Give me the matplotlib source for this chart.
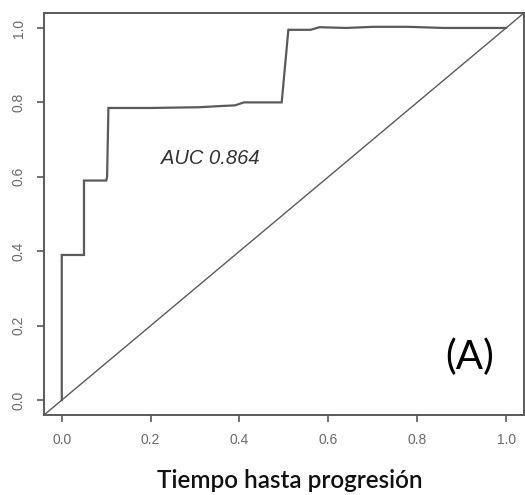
import matplotlib
matplotlib.use("Agg")
import matplotlib.pyplot as plt

# ROC curve points (false positive rate, true positive rate)
fpr = [0.0, 0.0, 0.05, 0.05, 0.10, 0.102, 0.105, 0.20, 0.31, 0.355, 0.39, 0.41,
       0.495, 0.51, 0.56, 0.58, 0.64, 0.70, 0.78, 0.86, 1.0]
tpr = [0.0, 0.39, 0.39, 0.59, 0.59, 0.60, 0.785, 0.785, 0.787, 0.79, 0.792, 0.80,
       0.80, 0.995, 0.995, 1.002, 1.0, 1.003, 1.003, 1.0, 1.0]
auc_label = "AUC 0.864"
ticks = [0.0, 0.2, 0.4, 0.6, 0.8, 1.0]
tick_labels = ["0.0", "0.2", "0.4", "0.6", "0.8", "1.0"]

grey = "#5a5a5a"

fig = plt.figure(figsize=(5.25, 4.95), dpi=100)
ax = fig.add_axes([0.0838, 0.1616, 0.914, 0.812])

ax.plot(fpr, tpr, color=grey, lw=1.6, solid_joinstyle="miter")
ax.axline((0, 0), (1, 1), color=grey, lw=1.0)

ax.set_xlim(-0.04, 1.04)
ax.set_ylim(-0.04, 1.04)
ax.set_xticks(ticks)
ax.set_xticklabels(tick_labels)
ax.set_yticks(ticks)
ax.set_yticklabels(tick_labels, rotation=90, va="center")
ax.tick_params(colors=grey, labelcolor="#6a6a6a", length=5, width=1.2,
               labelsize=10, pad=8)
for lbl in ax.get_xticklabels() + ax.get_yticklabels():
    lbl.set_family("Liberation Sans")
for sp in ax.spines.values():
    sp.set_color(grey)
    sp.set_linewidth(1.4)

ax.text(0.334, 0.65, auc_label, style="italic", family="Liberation Sans",
        fontsize=14.5, color="#333333", ha="center", va="center")
ax.text(0.918, 0.115, "(A)", family="Lato", fontsize=29, color="black",
        ha="center", va="center")

fig.text(0.552, 0.03, "Tiempo hasta progresión", family="Lato",
         fontweight="semibold", fontsize=17.5, color="#111111",
         ha="center", va="center")

fig.savefig("out.png", dpi=100)
